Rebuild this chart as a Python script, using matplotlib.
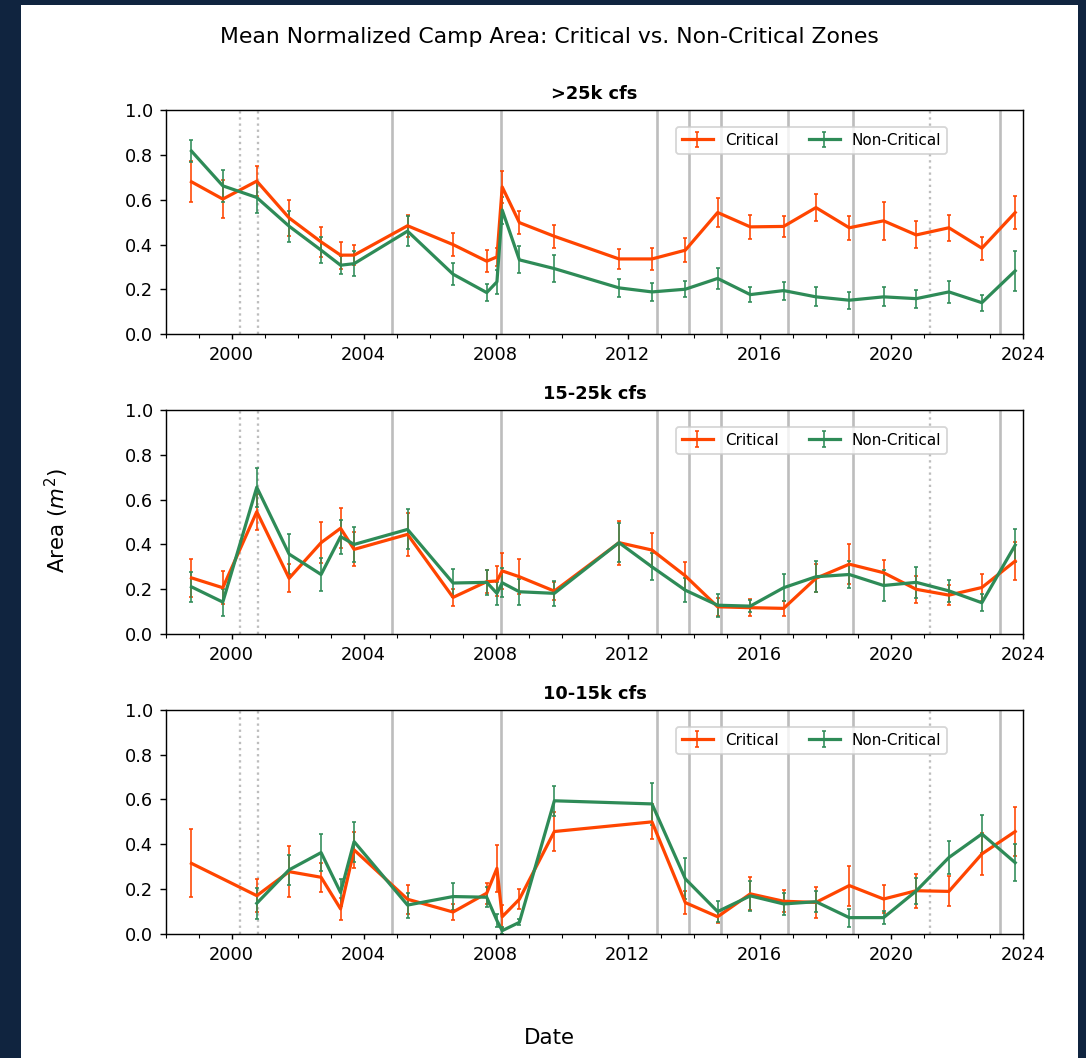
import numpy as np
import matplotlib.pyplot as plt
from matplotlib.patches import Rectangle

# Survey dates (decimal years)
dates = np.array([1998.78, 1999.73, 2000.76, 2001.74, 2002.71, 2003.30, 2003.71,
                  2005.33, 2006.71, 2007.73, 2008.04, 2008.20, 2008.72, 2009.78,
                  2011.74, 2012.74, 2013.75, 2014.73, 2015.72, 2016.73, 2017.71,
                  2018.72, 2019.76, 2020.75, 2021.74, 2022.74, 2023.75])

nan = np.nan

# >25k cfs
hi_crit = [0.68, 0.603, 0.683, 0.519, 0.412, 0.353, 0.353, 0.484, 0.40, 0.326, 0.345,
           0.657, 0.498, 0.437, 0.336, 0.336, 0.375, 0.543, 0.479, 0.481, 0.565,
           0.475, 0.506, 0.443, 0.475, 0.384, 0.543]
hi_crit_err = [0.092, 0.083, 0.068, 0.079, 0.068, 0.06, 0.046, 0.05, 0.053, 0.048, 0.04,
               0.07, 0.05, 0.052, 0.045, 0.048, 0.053, 0.063, 0.054, 0.045, 0.062,
               0.054, 0.085, 0.06, 0.058, 0.052, 0.075]
hi_non = [0.817, 0.662, 0.61, 0.482, 0.375, 0.308, 0.315, 0.46, 0.268, 0.186, 0.234,
          0.554, 0.332, 0.293, 0.207, 0.189, 0.201, 0.249, 0.177, 0.195, 0.167,
          0.152, 0.167, 0.159, 0.189, 0.141, 0.283]
hi_non_err = [0.048, 0.07, 0.07, 0.07, 0.058, 0.04, 0.057, 0.068, 0.048, 0.039, 0.054,
              0.06, 0.06, 0.062, 0.04, 0.04, 0.036, 0.046, 0.033, 0.04, 0.042,
              0.038, 0.042, 0.04, 0.048, 0.036, 0.088]

# 15-25k cfs
mid_crit = [0.251, 0.207, 0.546, 0.249, 0.408, 0.472, 0.378, 0.445, 0.164, 0.234, 0.237,
            0.282, 0.256, 0.192, 0.408, 0.375, 0.26, 0.122, 0.118, 0.115, 0.249,
            0.312, 0.274, 0.20, 0.174, 0.208, 0.326]
mid_crit_err = [0.085, 0.074, 0.08, 0.063, 0.09, 0.09, 0.076, 0.097, 0.039, 0.05, 0.069,
                0.08, 0.078, 0.04, 0.098, 0.074, 0.063, 0.04, 0.039, 0.035, 0.063,
                0.089, 0.057, 0.061, 0.045, 0.06, 0.085]
mid_non = [0.211, 0.143, 0.655, 0.357, 0.266, 0.435, 0.40, 0.467, 0.228, 0.231, 0.182,
           0.229, 0.189, 0.182, 0.408, 0.30, 0.196, 0.129, 0.125, 0.207, 0.256,
           0.266, 0.217, 0.231, 0.193, 0.14, 0.397]
mid_non_err = [0.067, 0.06, 0.087, 0.089, 0.072, 0.076, 0.078, 0.089, 0.061, 0.056, 0.052,
               0.065, 0.057, 0.055, 0.087, 0.06, 0.054, 0.052, 0.028, 0.061, 0.07,
               0.06, 0.068, 0.068, 0.048, 0.037, 0.074]

# 10-15k cfs
lo_crit = [0.315, nan, 0.171, 0.278, 0.253, 0.112, 0.375, 0.155, 0.098, 0.182, 0.293,
           0.077, 0.155, 0.457, nan, 0.50, 0.14, 0.077, 0.179, 0.146, 0.141,
           0.216, 0.156, 0.193, 0.19, 0.357, 0.457]
lo_crit_err = [0.152, nan, 0.073, 0.113, 0.064, 0.05, 0.08, 0.065, 0.037, 0.046, 0.104,
               0.052, 0.045, 0.085, nan, 0.078, 0.05, 0.026, 0.074, 0.05, 0.069,
               0.089, 0.063, 0.076, 0.067, 0.093, 0.11]
lo_non = [nan, nan, 0.137, 0.286, 0.363, 0.185, 0.412, 0.129, 0.167, 0.164, 0.06,
          0.015, 0.052, 0.594, nan, 0.58, 0.246, 0.10, 0.17, 0.134, 0.144,
          0.073, 0.073, 0.192, 0.341, 0.446, 0.318]
lo_non_err = [nan, nan, 0.07, 0.068, 0.082, 0.06, 0.089, 0.056, 0.06, 0.045, 0.03,
              0.015, 0.013, 0.068, nan, 0.093, 0.091, 0.048, 0.068, 0.05, 0.048,
              0.04, 0.03, 0.057, 0.072, 0.085, 0.082]

# High flow experiments (solid) and other flow events (dotted)
hfe_dates = [2004.85, 2008.15, 2012.88, 2013.86, 2014.84, 2016.85, 2018.84, 2023.30]
other_dates = [2000.24, 2000.79, 2021.18]

panels = [
    (">25k cfs", hi_crit, hi_crit_err, hi_non, hi_non_err),
    ("15-25k cfs", mid_crit, mid_crit_err, mid_non, mid_non_err),
    ("10-15k cfs", lo_crit, lo_crit_err, lo_non, lo_non_err),
]

crit_color = "#ff4500"
non_color = "#2e8b57"

fig, axes = plt.subplots(3, 1, figsize=(1086 / 128, 1058 / 128), dpi=128,
                         facecolor="#10243f")
fig.subplots_adjust(left=0.1526, right=0.9424, top=0.896, bottom=0.1172, hspace=0.337)

# white page behind the plots
fig.add_artist(Rectangle((21 / 1086, 0), 1057 / 1086, 1 - 5 / 1058,
                         transform=fig.transFigure, facecolor="white",
                         edgecolor="none", zorder=-5))


def draw_series(ax, y, err, color, label):
    y = np.asarray(y, dtype=float)
    err = np.asarray(err, dtype=float)
    ok = ~np.isnan(y)
    ax.errorbar(dates[ok], y[ok], yerr=err[ok], color=color, label=label,
                linewidth=1.8, elinewidth=0.9, capsize=1.0, capthick=0.9)


for ax, (title, crit, crit_err, non, non_err) in zip(axes, panels):
    for d in hfe_dates:
        ax.axvline(d, color="#bdbdbd", linewidth=1.5, zorder=0)
    for d in other_dates:
        ax.axvline(d, color="#bdbdbd", linewidth=1.3, linestyle=":", zorder=0)

    draw_series(ax, crit, crit_err, crit_color, "Critical")
    draw_series(ax, non, non_err, non_color, "Non-Critical")

    ax.set_title(title, fontsize=10, fontweight="bold")
    ax.set_xlim(1998, 2024)
    ax.set_ylim(0, 1.0)
    ax.set_yticks(np.arange(0, 1.01, 0.2))
    ax.set_xticks(np.arange(2000, 2025, 4))
    ax.set_xticks(np.arange(1998, 2025, 1), minor=True)
    ax.tick_params(axis="x", which="major", length=3)
    ax.tick_params(axis="x", which="minor", length=2.4)
    ax.legend(loc="upper center", bbox_to_anchor=(0.753, 0.925), ncol=2,
              borderaxespad=0, fontsize=8.6, handleheight=0.9)

fig.suptitle("Mean Normalized Camp Area: Critical vs. Non-Critical Zones",
             x=0.506, y=1 - 37 / 1058, va="center", fontsize=12.3)
fig.supxlabel("Date", x=0.506, y=1 - 1038 / 1058, va="center")
fig.supylabel("Area ($m^2$)", x=57 / 1086, y=1 - 520 / 1058, va="center", ha="center")

fig.savefig("out.png", dpi=128, facecolor=fig.get_facecolor())
